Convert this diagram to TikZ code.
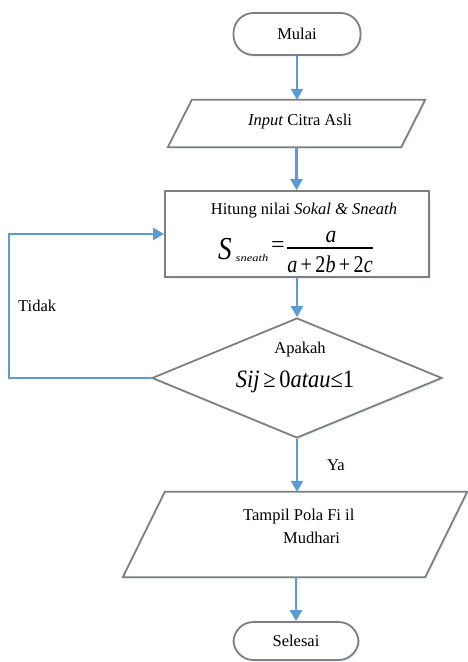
\documentclass[tikz,border=0pt]{standalone}
\usepackage{fontspec}
\setmainfont{Liberation Serif}
\usepackage{graphicx}
\usetikzlibrary{shapes.geometric,arrows.meta,shadows}
\definecolor{flowblue}{HTML}{5B9BD5}
\definecolor{boxgray}{HTML}{7F7F7F}
\tikzset{
  shape base/.style={draw=boxgray, line width=1.8pt, fill=white,
    drop shadow={shadow xshift=1.5pt, shadow yshift=-2pt, fill=flowblue, opacity=0.12}},
  terminal/.style={shape base, rectangle, rounded corners=20pt, inner sep=0pt},
  iobox/.style={rectangle, inner sep=0pt},
  procbox/.style={shape base, rectangle, inner sep=0pt},
  decbox/.style={shape base, diamond, inner sep=0pt},
  flow/.style={draw=flowblue, line width=2.4pt, -{Triangle[width=12pt,length=11pt]}},
  txt/.style={font=\fontsize{16.5}{19}\selectfont, inner sep=0pt},
}
\begin{document}
\begin{tikzpicture}[x=1pt,y=-1pt]
\useasboundingbox (0,0) rectangle (467,662);

% shapes
\node[terminal, minimum width=127pt, minimum height=42pt] (start) at (297,34) {};
\node[iobox, minimum width=233pt, minimum height=47pt] (input) at (296.5,123.5) {};
\draw[shape base] ([xshift=12pt]input.north west) -- ([xshift=12pt]input.north east)
  -- ([xshift=-12pt]input.south east) -- ([xshift=-12pt]input.south west) -- cycle;
\node[procbox, minimum width=264pt, minimum height=86pt] (calc) at (297,234) {};
\node[decbox, minimum width=290pt, minimum height=120pt] (dec) at (297,378) {};
\node[iobox, minimum width=302pt, minimum height=85pt] (out) at (295,534.5) {};
\draw[shape base] ([xshift=21pt]out.north west) -- ([xshift=21pt]out.north east)
  -- ([xshift=-21pt]out.south east) -- ([xshift=-21pt]out.south west) -- cycle;
\node[terminal, minimum width=125pt, minimum height=38pt] (stop) at (296,641) {};

% texts
\node[txt] (tstart) at (297,34) {Mulai};
\node[txt] (tinput) at (300,122) {\textit{Input} Citra Asli};
\node[txt] (tcalc) at (304,211) {Hitung nilai \textit{Sokal \& Sneath}};
\node[inner sep=0pt] (fS) at (225,249) {\scalebox{0.85}[1]{\fontsize{32}{32}\selectfont\itshape S}};
\node[inner sep=0pt] (fsub) at (252,258) {\scalebox{1.25}[1]{\fontsize{10}{10}\selectfont\itshape sneath}};
\node[inner sep=0pt] (feq) at (278,247) {\fontsize{24}{24}\selectfont =};
\node[inner sep=0pt] (fnum) at (331,237) {\scalebox{0.9}[1]{\fontsize{24}{24}\selectfont\itshape a}};
\node[inner sep=0pt] (fden) at (330,264) {\scalebox{0.84}[1]{\fontsize{24}{24}\selectfont\itshape a\upshape\,+\,2\itshape b\upshape\,+\,2\itshape c}};
\draw[line width=1.1pt] (fden.west |- 0,248) -- (fden.east |- 0,248);
\node[txt] (tapakah) at (300,350) {Apakah};
\node[inner sep=0pt] (tcond) at (295,382) {\scalebox{0.9}[1]{\fontsize{25}{25}\selectfont\itshape Sij\,\upshape≥\,0\itshape atau\upshape≤1}};
\node[txt, anchor=west] (tout1) at (243,517) {Tampil Pola Fi il};
\node[txt, anchor=west] (tout2) at (283,538) {Mudhari};
\node[txt] (tstop) at (296,641) {Selesai};
\node[txt, anchor=west] (tno) at (18,306) {Tidak};
\node[txt, anchor=west] (tyes) at (327,465) {Ya};

% connectors
\draw[flow] (start.south) -- (start.south |- input.north);
\draw[flow] (input.south) -- (input.south |- calc.north);
\draw[flow] (calc.south) -- (calc.south |- dec.north);
\draw[flow] (dec.south) -- (dec.south |- out.north);
\draw[flow] (out.south -| stop.north) -- (stop.north);
\coordinate (lb) at (9,378);
\coordinate (lt) at (9,234);
\draw[flow] (dec.west) -- (lb) -- (lt) -- (calc.west);
\end{tikzpicture}
\end{document}
